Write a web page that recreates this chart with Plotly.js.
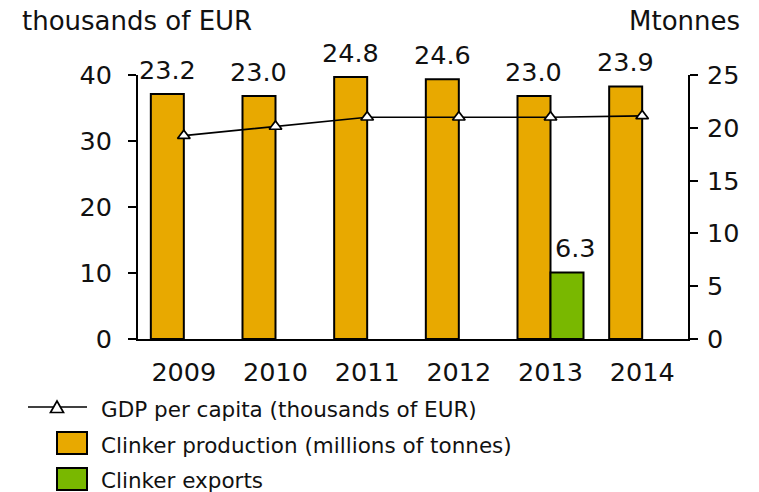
<!DOCTYPE html>
<html>
<head>
<meta charset="utf-8">
<script src="https://cdn.plot.ly/plotly-3.0.1.min.js"></script>
<style>html,body{margin:0;padding:0;background:#fff;}#chart{width:759px;height:492px;}</style>
</head>
<body>
<div id="chart"></div>
<script>
// ---- data ----
const years = ['2009', '2010', '2011', '2012', '2013', '2014'];
const clinkerProduction = [23.2, 23.0, 24.8, 24.6, 23.0, 23.9];
const clinkerExports = [null, null, null, null, 6.3, null];
const gdpPerCapita = [30.8, 32.2, 33.6, 33.6, 33.6, 33.8];
const seriesNames = ['GDP per capita (thousands of EUR)', 'Clinker production (millions of tonnes)', 'Clinker exports'];
const leftAxisTitle = 'thousands of EUR';
const rightAxisTitle = 'Mtonnes';
const leftTicks = [0, 10, 20, 30, 40];
const rightTicks = [0, 5, 10, 15, 20, 25];

// ---- style ----
const FONT = 'DejaVu Sans, Verdana, sans-serif';
const TXT = '#111';
const ORANGE = '#E8A900';
const GREEN = '#79B800';
const L = 138, R = 688, T = 75, B = 339;
const W = R - L, H = B - T;
const pxX = x => (x - L) / W;
const pxY = y => (B - y) / H;
const BAR_SHIFT = 16.7;

const traces = [
  {
    type: 'bar', x: years, y: clinkerProduction, name: seriesNames[1], yaxis: 'y',
    marker: {color: ORANGE, line: {color: '#000', width: 2}}, showlegend: false, hoverinfo: 'none'
  },
  {
    type: 'bar', x: years, y: clinkerExports, name: seriesNames[2], yaxis: 'y',
    marker: {color: GREEN, line: {color: '#000', width: 2}}, showlegend: false, hoverinfo: 'none'
  },
  {
    type: 'scatter', mode: 'lines+markers', x: years, y: gdpPerCapita, name: seriesNames[0], yaxis: 'y2',
    line: {color: '#000', width: 1.7},
    marker: {symbol: 'triangle-up', size: 11, color: '#fff', line: {color: '#000', width: 1.7}},
    showlegend: false, hoverinfo: 'none', cliponaxis: false
  }
];

const annotations = [];
clinkerProduction.forEach((v, i) => {
  if (v == null) return;
  annotations.push({xref: 'x', yref: 'y', x: i, y: v, text: v.toFixed(1), showarrow: false,
    xanchor: 'center', yanchor: 'bottom', xshift: -BAR_SHIFT, yshift: 7.5, font: {family: FONT, size: 25.5, color: TXT}});
});
clinkerExports.forEach((v, i) => {
  if (v == null) return;
  annotations.push({xref: 'x', yref: 'y', x: i, y: v, text: v.toFixed(1), showarrow: false,
    xanchor: 'center', yanchor: 'bottom', xshift: BAR_SHIFT + 8, yshift: 7.5, font: {family: FONT, size: 25.5, color: TXT}});
});
// axis titles
annotations.push({xref: 'paper', yref: 'paper', x: pxX(20), y: pxY(21), xanchor: 'left', yanchor: 'middle',
  text: leftAxisTitle, showarrow: false, font: {family: FONT, size: 26, color: TXT}});
annotations.push({xref: 'paper', yref: 'paper', x: pxX(742), y: pxY(21), xanchor: 'right', yanchor: 'middle',
  text: rightAxisTitle, showarrow: false, font: {family: FONT, size: 26, color: TXT}});
// legend texts
const legendTextY = [409, 445.5, 480];
seriesNames.forEach((n, i) => {
  annotations.push({xref: 'paper', yref: 'paper', x: pxX(99), y: pxY(legendTextY[i]), xanchor: 'left', yanchor: 'middle',
    text: n, showarrow: false, font: {family: FONT, size: 21.5, color: TXT}});
});

const triPath = 'M' + pxX(50.5) + ',' + pxY(412.5) + ' L' + pxX(63.5) + ',' + pxY(412.5) + ' L' + pxX(57) + ',' + pxY(401) + ' Z';
const shapes = [
  {type: 'line', xref: 'paper', yref: 'paper', x0: pxX(28), x1: pxX(87), y0: pxY(407), y1: pxY(407), line: {color: '#000', width: 1.7}},
  {type: 'path', xref: 'paper', yref: 'paper', path: triPath, fillcolor: '#fff', line: {color: '#000', width: 1.7}},
  {type: 'rect', xref: 'paper', yref: 'paper', x0: pxX(57), x1: pxX(87), y0: pxY(454), y1: pxY(432), fillcolor: ORANGE, line: {color: '#000', width: 2}},
  {type: 'rect', xref: 'paper', yref: 'paper', x0: pxX(57), x1: pxX(87), y0: pxY(490), y1: pxY(468), fillcolor: GREEN, line: {color: '#000', width: 2}}
];

const layout = {
  width: 759, height: 492,
  margin: {l: L, r: 759 - R, t: T, b: 492 - B, pad: 0},
  paper_bgcolor: '#fff', plot_bgcolor: '#fff',
  font: {family: FONT, size: 25.5, color: TXT},
  barmode: 'group', bargap: 0.28, bargroupgap: 0,
  showlegend: false,
  xaxis: {
    type: 'category', range: [-0.5, 5.5], autorange: false, showline: true, linecolor: '#000', linewidth: 2, ticks: '', showgrid: false,
    zeroline: false, tickfont: {family: FONT, size: 25.5, color: TXT}, ticklabelstandoff: 9
  },
  yaxis: {
    side: 'right', range: [0, 25], autorange: false, tickvals: rightTicks, showline: true, linecolor: '#000', linewidth: 2,
    ticks: 'outside', ticklen: 8, tickwidth: 2, tickcolor: '#000', showgrid: false, zeroline: false,
    tickfont: {family: FONT, size: 25.5, color: TXT}, ticklabelstandoff: 4
  },
  yaxis2: {
    overlaying: 'y', side: 'left', range: [0, 40], autorange: false, tickvals: leftTicks, showline: true, linecolor: '#000', linewidth: 2,
    ticks: 'outside', ticklen: 8, tickwidth: 2, tickcolor: '#000', showgrid: false, zeroline: false,
    tickfont: {family: FONT, size: 25.5, color: TXT}, ticklabelstandoff: 11
  },
  annotations: annotations,
  shapes: shapes
};

Plotly.newPlot('chart', traces, layout, {displayModeBar: false, staticPlot: true});
</script>
</body>
</html>
